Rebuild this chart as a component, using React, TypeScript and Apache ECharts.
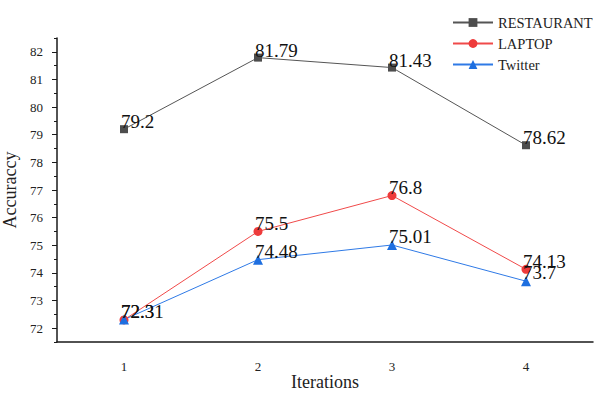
import React, { useEffect, useRef } from "react";
import * as echarts from "echarts";

const categories = ["1", "2", "3", "4"];
const restaurant = [79.2, 81.79, 81.43, 78.62];
const laptop = [72.3, 75.5, 76.8, 74.13];
const twitter = [72.31, 74.48, 75.01, 73.7];
const yMajorTicks = [72, 73, 74, 75, 76, 77, 78, 79, 80, 81, 82];
const yMinorTicks = [71.5, 72.5, 73.5, 74.5, 75.5, 76.5, 77.5, 78.5, 79.5, 80.5, 81.5, 82.5];

const FONT = "Liberation Serif";

export default function App() {
  const ref = useRef<HTMLDivElement>(null);
  useEffect(() => {
    document.body.style.margin = "0";
    const chart = echarts.init(ref.current!, null, { renderer: "svg" });
    const label = {
      show: true,
      position: "top",
      align: "left",
      verticalAlign: "bottom",
      distance: 0,
      offset: [-3, 6],
      color: "#111",
      fontSize: 19,
      fontFamily: FONT,
    };
    const mk = (name: string, data: number[], color: string, lineColor: string, symbol: string, size: number) => ({
      name,
      type: "line",
      data,
      symbol,
      symbolSize: size,
      lineStyle: { color: lineColor, width: 1 },
      itemStyle: { color },
      label,
      z: 3,
    });
    chart.setOption({
      animation: false,
      textStyle: { fontFamily: FONT },
      grid: { left: 57, right: 5, top: 38, bottom: 52, outerBoundsMode: "none", containLabel: false },
      legend: {
        orient: "vertical",
        left: 447,
        top: 10,
        itemWidth: 40,
        itemHeight: 11,
        itemGap: 6,
        textStyle: { fontFamily: FONT, fontSize: 14.5, color: "#222" },
        data: ["RESTAURANT", "LAPTOP", "Twitter"],
      },
      xAxis: {
        type: "category",
        data: categories,
        boundaryGap: true,
        name: "Iterations",
        nameLocation: "middle",
        nameGap: 40,
        nameMoveOverlap: false,
        nameTextStyle: { fontFamily: FONT, fontSize: 18, color: "#222", verticalAlign: "middle", lineHeight: 18 },
        axisLine: { lineStyle: { color: "#1a1a1a", width: 1.5 } },
        axisTick: { alignWithLabel: true, length: 5, lineStyle: { color: "#1a1a1a" } },
        axisLabel: { margin: 18, fontSize: 13, fontFamily: FONT, color: "#222" },
        splitLine: { show: false },
      },
      yAxis: [
        {
          type: "value",
          min: 71.5,
          max: 82.5,
          interval: 0.5,
          name: "Accuraccy",
          nameLocation: "middle",
          nameGap: 32,
          nameTextStyle: { fontFamily: FONT, fontSize: 18, color: "#222" },
          axisLine: { show: true, lineStyle: { color: "#1a1a1a", width: 1.5 } },
          axisTick: { show: true, length: 5, customValues: yMajorTicks, lineStyle: { color: "#1a1a1a" } },
          axisLabel: { customValues: yMajorTicks, margin: 14, fontSize: 13, fontFamily: FONT, color: "#222" },
          splitLine: { show: false },
        },
        {
          type: "value",
          min: 71.5,
          max: 82.5,
          interval: 0.5,
          position: "left",
          axisLine: { show: false },
          axisTick: { show: true, length: 3, customValues: yMinorTicks, lineStyle: { color: "#1a1a1a" } },
          axisLabel: { show: false },
          splitLine: { show: false },
        },
      ],
      series: [
        mk("RESTAURANT", restaurant, "#4d4d4d", "#555555", "rect", 8),
        mk("LAPTOP", laptop, "#ee3b3b", "#f04a4a", "circle", 9),
        mk("Twitter", twitter, "#1e6fe0", "#2f7ae6", "triangle", 10),
      ],
    });
    return () => chart.dispose();
  }, []);
  return <div ref={ref} style={{ width: 598, height: 394 }} />;
}
